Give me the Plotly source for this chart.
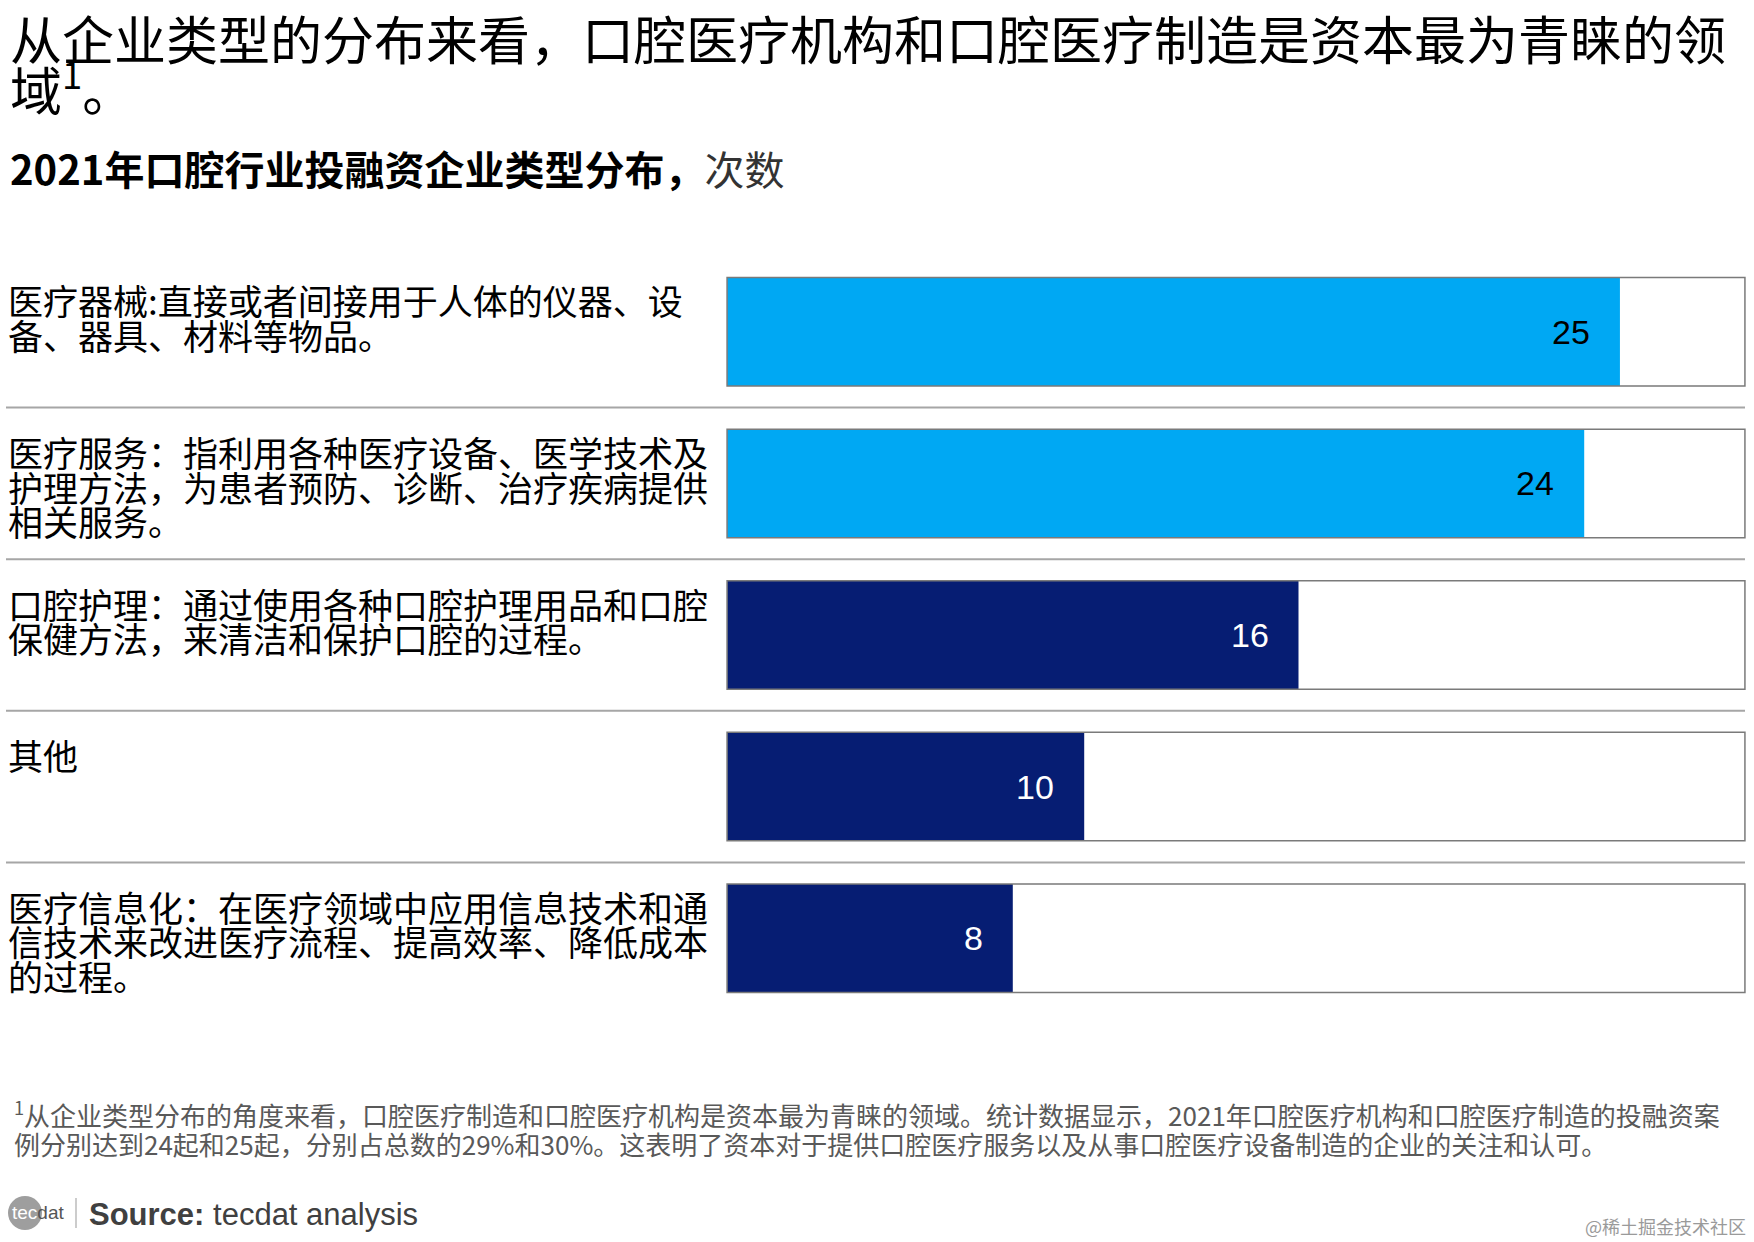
import plotly.graph_objects as go

# ---------------- data ----------------
CATEGORIES = ["医疗器械", "医疗服务", "口腔护理", "其他", "医疗信息化"]
DESCRIPTIONS = [
    "医疗器械:直接或者间接用于人体的仪器、设<br>备、器具、材料等物品。",
    "医疗服务：指利用各种医疗设备、医学技术及<br>护理方法，为患者预防、诊断、治疗疾病提供<br>相关服务。",
    "口腔护理：通过使用各种口腔护理用品和口腔<br>保健方法，来清洁和保护口腔的过程。",
    "其他",
    "医疗信息化：在医疗领域中应用信息技术和通<br>信技术来改进医疗流程、提高效率、降低成本<br>的过程。",
]
VALUES = [25, 24, 16, 10, 8]
TRACK_MAX = 28.5

TITLE_LINES = [
    "从企业类型的分布来看，口腔医疗机构和口腔医疗制造是资本最为青睐的领",
    "域<sup>1</sup>。",
]
SUBTITLE_BOLD = "2021年口腔行业投融资企业类型分布，"
SUBTITLE_UNIT = "次数"
FOOTNOTE_LINES = [
    "<sup>1</sup>从企业类型分布的角度来看，口腔医疗制造和口腔医疗机构是资本最为青睐的领域。统计数据显示，2021年口腔医疗机构和口腔医疗制造的投融资案",
    "例分别达到24起和25起，分别占总数的29%和30%。这表明了资本对于提供口腔医疗服务以及从事口腔医疗设备制造的企业的关注和认可。",
]
SOURCE = "<b>Source:</b> tecdat analysis"
WATERMARK = "@稀土掘金技术社区"

# ---------------- style ----------------
W, H = 1754, 1242


def px(p):
    return p / W


def py(p):
    return 1 - p / H


CJK = "Noto Sans CJK SC"
LATIN = "Liberation Sans, Arial, sans-serif"
LIGHT = "#00A8F3"
NAVY = "#061D73"
bar_colors = [LIGHT, LIGHT, NAVY, NAVY, NAVY]
value_text_colors = ["#000000", "#000000", "#FFFFFF", "#FFFFFF", "#FFFFFF"]

fig = go.Figure()
fig.add_trace(go.Bar(
    y=CATEGORIES, x=VALUES, orientation="h",
    marker=dict(color=bar_colors, line=dict(width=0)),
    hoverinfo="skip", showlegend=False,
))
fig.add_trace(go.Bar(
    y=CATEGORIES, x=[TRACK_MAX] * len(CATEGORIES), orientation="h",
    marker=dict(color="rgba(0,0,0,0)", line=dict(color="#7a7a7a", width=1.5)),
    hoverinfo="skip", showlegend=False,
))

annotations = []
shapes = []

# title
for i, line in enumerate(TITLE_LINES):
    annotations.append(dict(
        text=line, x=px(8), y=py(37 + 50 * i), xref="paper", yref="paper",
        xanchor="left", yanchor="middle", showarrow=False,
        font=dict(family=CJK, size=52, color="#000000"),
    ))
# subtitle
annotations.append(dict(
    text=f"<b>{SUBTITLE_BOLD}</b><span style='color:#333333'>{SUBTITLE_UNIT}</span>",
    x=px(8), y=py(168), xref="paper", yref="paper",
    xanchor="left", yanchor="middle", showarrow=False,
    font=dict(family=CJK, size=40, color="#000000"),
))

# category descriptions
for i, desc in enumerate(DESCRIPTIONS):
    for j, line in enumerate(desc.split("<br>")):
        annotations.append(dict(
            text=line, x=px(6), y=CATEGORIES[i], xref="paper", yref="y",
            xanchor="left", yanchor="middle", yshift=32 - 34.7 * j,
            showarrow=False, font=dict(family=CJK, size=35, color="#000000"),
        ))

# value labels
for i, v in enumerate(VALUES):
    annotations.append(dict(
        text=str(v), x=v, y=CATEGORIES[i], xref="x", yref="y",
        xanchor="right", yanchor="middle", xshift=-28, showarrow=False,
        font=dict(family=LATIN, size=34, color=value_text_colors[i]),
    ))

# separators between rows
for i in range(len(CATEGORIES) - 1):
    shapes.append(dict(
        type="line", xref="paper", yref="y", x0=px(6), x1=px(1745),
        y0=i + 0.5, y1=i + 0.5, line=dict(color="#a6a6a6", width=2),
    ))

# footnote
for i, line in enumerate(FOOTNOTE_LINES):
    annotations.append(dict(
        text=line, x=px(12), y=py(1113 + 30 * i), xref="paper", yref="paper",
        xanchor="left", yanchor="middle", showarrow=False,
        font=dict(family=CJK, size=26, color="#595959"),
    ))

# logo + source
shapes.append(dict(type="circle", xref="paper", yref="paper",
                   x0=px(8), x1=px(42), y0=py(1230), y1=py(1196),
                   fillcolor="#9e9e9e", line=dict(width=0)))
annotations.append(dict(
    text="<span style='color:#ffffff'>tec</span><span style='color:#555555'>dat</span>",
    x=px(10), y=py(1212), xref="paper", yref="paper", xanchor="left", yanchor="middle",
    showarrow=False, font=dict(family=LATIN, size=19),
))
shapes.append(dict(type="line", xref="paper", yref="paper",
                   x0=px(76), x1=px(76), y0=py(1198), y1=py(1228),
                   line=dict(color="#bbbbbb", width=1.5)))
annotations.append(dict(
    text=SOURCE, x=px(87), y=py(1214), xref="paper", yref="paper",
    xanchor="left", yanchor="middle", showarrow=False,
    font=dict(family=LATIN, size=31, color="#404040"),
))
annotations.append(dict(
    text=WATERMARK, x=px(1748), y=py(1226), xref="paper", yref="paper",
    xanchor="right", yanchor="middle", showarrow=False,
    font=dict(family=CJK, size=18, color="#9a9a9a"),
))

fig.update_layout(
    width=W, height=H,
    margin=dict(l=0, r=0, t=0, b=0),
    paper_bgcolor="#ffffff", plot_bgcolor="#ffffff",
    barmode="overlay", bargap=0.284,
    xaxis=dict(domain=[px(726), px(1746)], range=[-0.03, TRACK_MAX + 0.03],
               visible=False, fixedrange=True),
    yaxis=dict(domain=[py(1014), py(256)], range=[len(CATEGORIES) - 0.5, -0.5],
               type="category", categoryorder="array", categoryarray=CATEGORIES,
               showticklabels=False, showgrid=False, zeroline=False,
               showline=False, ticks="", fixedrange=True),
    annotations=annotations, shapes=shapes,
)

fig.write_html(
    "out.html",
    config={"displayModeBar": False},
    post_script="document.body.style.margin='0px';document.body.style.overflow='hidden';",
)
